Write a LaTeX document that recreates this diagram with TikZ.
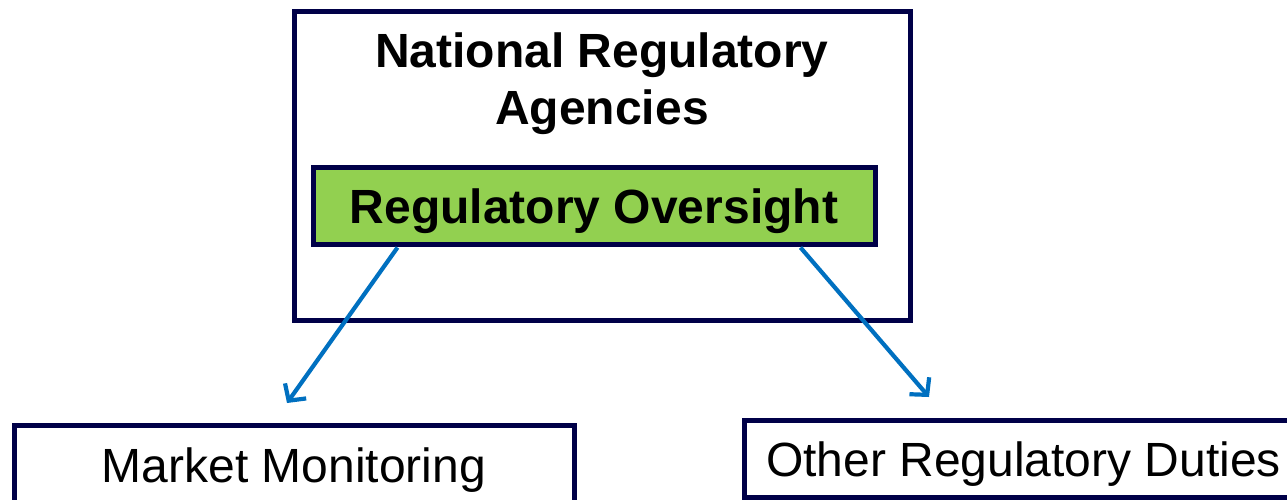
\documentclass[tikz,border=0pt]{standalone}
\usepackage{fontspec}
\setmainfont{Liberation Sans}
\usetikzlibrary{arrows.meta}
\definecolor{navy}{RGB}{0,0,72}
\definecolor{leaf}{RGB}{146,208,80}
\definecolor{arrowblue}{RGB}{0,112,192}
\tikzset{
  frame/.style={draw=navy, line width=5pt, rectangle, inner sep=0pt},
  bigbold/.style={font=\fontsize{48}{57}\selectfont\bfseries, inner sep=0pt, align=center},
  bigreg/.style={font=\fontsize{48}{57}\selectfont, inner sep=0pt},
  link/.style={draw=arrowblue, line width=4.2pt, -{Straight Barb[length=12pt,width=26pt,line width=4.2pt]}}
}
\begin{document}
\begin{tikzpicture}[x=1pt,y=-1pt]
\useasboundingbox (0,0) rectangle (1287,499);
\clip (0,0) rectangle (1287,499);
% outer agency box
\node[frame, minimum width=616pt, minimum height=309pt] (outer) at (602,165.5) {};
\node[bigbold, anchor=base] (title) at (602,124) {National Regulatory\\Agencies};
% green oversight box
\node[frame, fill=leaf, minimum width=561.5pt, minimum height=77pt] (green) at (594.25,205.5) {};
\node[bigbold, anchor=base] (greentext) at (594,223) {Regulatory Oversight};
% bottom boxes
\node[frame, minimum width=560.5pt, minimum height=80pt] (mm) at (294.25,465) {};
\node[bigreg, anchor=base] (mmtext) at (294,482) {Market Monitoring};
\node[frame, minimum width=558pt, minimum height=77pt] (ord) at (1023.5,458.5) {};
\node[bigreg, anchor=base] (ordtext) at (1023.5,476) {Other Regulatory Duties};
% arrows
\coordinate (tipL) at (287,403);
\coordinate (tipR) at (929,397);
\coordinate (startL) at ([xshift=86.5pt,yshift=-1pt]green.south west);
\coordinate (startR) at ([xshift=-77pt,yshift=-1pt]green.south east);
\draw[link] (startL) -- (tipL);
\draw[link] (startR) -- (tipR);
\end{tikzpicture}
\end{document}
